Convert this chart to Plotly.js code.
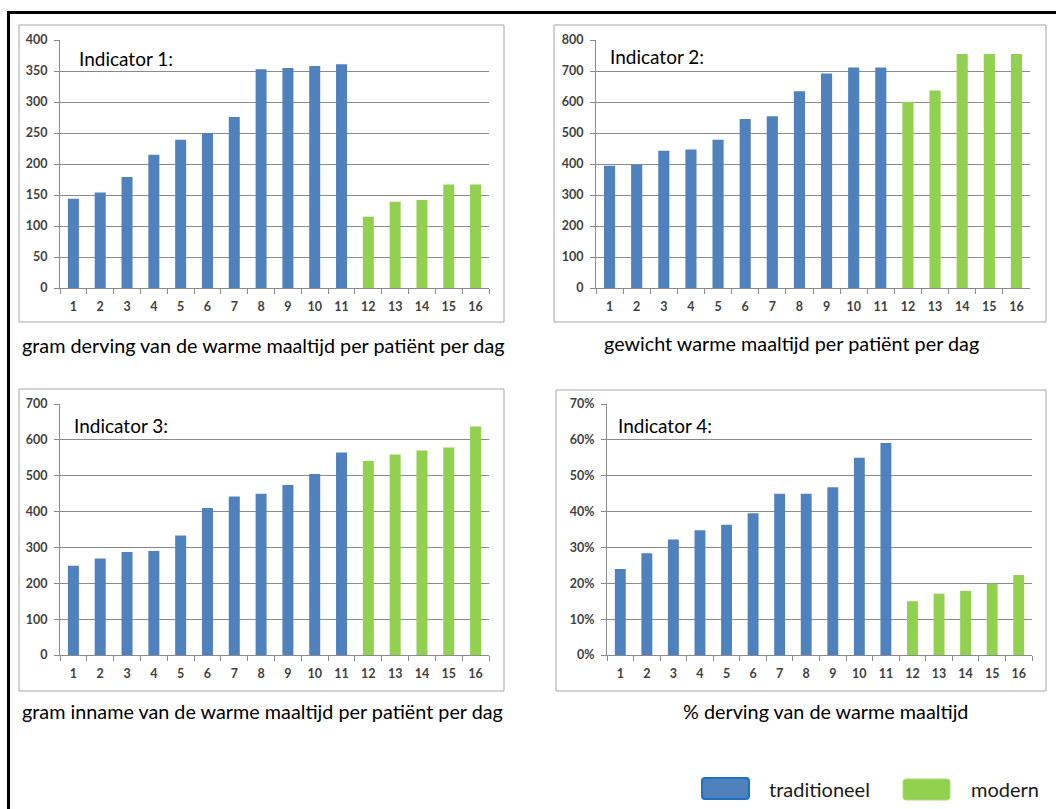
<!DOCTYPE html>
<html>
<head>
<meta charset="utf-8">
<script src="https://cdn.plot.ly/plotly-3.0.1.min.js"></script>
<style>html,body{margin:0;padding:0;background:#fff;overflow:hidden}#chart{width:1056px;height:809px}</style>
</head>
<body>
<div id="chart"></div>
<script>
// ---- data ----
const categories = ['1','2','3','4','5','6','7','8','9','10','11','12','13','14','15','16'];
const groups = ['traditioneel','traditioneel','traditioneel','traditioneel','traditioneel','traditioneel','traditioneel','traditioneel','traditioneel','traditioneel','traditioneel','modern','modern','modern','modern','modern'];
const ind1 = [144,154,179,215,239,250,276,353,355,358,361,115,139,142,167,167];
const ind2 = [394,398,443,447,478,545,554,635,692,711,711,600,637,755,755,755];
const ind3 = [249,269,287,290,333,410,442,450,474,505,565,541,559,570,579,637];
const ind4 = [0.240,0.284,0.322,0.348,0.363,0.395,0.450,0.450,0.468,0.550,0.591,0.150,0.171,0.179,0.199,0.223];
const panelTitles = ['Indicator 1:','Indicator 2:','Indicator 3:','Indicator 4:'];
const captions = ['gram derving van de warme maaltijd per patiënt per dag','gewicht warme maaltijd per patiënt per dag','gram inname van de warme maaltijd per patiënt per dag','% derving van de warme maaltijd'];
const legendLabels = ['traditioneel','modern'];
const groupColors = {traditioneel:'#4F81BD', modern:'#92D050'};

// ---- helpers (pixel -> paper) ----
const W = 1056, H = 809;
const px = x => x / W;
const py = y => 1 - y / H;
const FONT = 'Lato, "Open Sans", sans-serif';
const GRID = '#8a8a8a';

const series = [ind1, ind2, ind3, ind4];
const traces = series.map((vals, i) => ({
  type: 'bar',
  x: categories,
  y: vals,
  xaxis: 'x' + (i === 0 ? '' : i + 1),
  yaxis: 'y' + (i === 0 ? '' : i + 1),
  marker: {color: groups.map(g => groupColors[g]), line: {width: 0}},
  hoverinfo: 'x+y'
}));

// panel geometry in pixels: [xLeft, xRight, yTop, yBottom]
const plots = [[60,489,40,288],[596,1030,40,288],[60,489,404,655],[607,1032,404,655]];
const yRanges = [[0,400,50],[0,800,100],[0,700,100],[0,0.7,0.1]];

const layout = {
  width: W, height: H,
  margin: {l:0, r:0, t:0, b:0},
  paper_bgcolor: '#fff', plot_bgcolor: '#fff',
  showlegend: false,
  bargap: 0.59,
  font: {family: FONT},
  shapes: [], annotations: []
};

const tickFont = {family: FONT, size: 12.5, color: '#3f3f3f', weight: 'bold'};
plots.forEach((p, i) => {
  const sfx = i === 0 ? '' : String(i + 1);
  layout['xaxis' + sfx] = {
    domain: [px(p[0]), px(p[1])], anchor: 'y' + sfx, type: 'category',
    showgrid: false, showline: true, linecolor: GRID, linewidth: 1,
    ticks: 'outside', tickson: 'boundaries', ticklen: 5, tickcolor: GRID,
    ticklabelstandoff: 7,
    tickfont: tickFont,
    fixedrange: true
  };
  layout['yaxis' + sfx] = {
    domain: [py(p[3]), py(p[2])], anchor: 'x' + sfx,
    range: [yRanges[i][0], yRanges[i][1]], dtick: yRanges[i][2], tick0: 0,
    tickformat: i === 3 ? '.0%' : '',
    showgrid: true, gridcolor: GRID, gridwidth: 1, zeroline: false,
    showline: true, linecolor: GRID, linewidth: 1,
    ticks: 'outside', ticklen: 5, tickcolor: GRID, ticklabelstandoff: 4,
    tickfont: tickFont,
    fixedrange: true
  };
});

// panel boxes
const boxes = [[19,504,25,322],[554,1046,25,322],[19,504,389,691],[556,1046,390,691]];
boxes.forEach(b => layout.shapes.push({type:'rect', xref:'paper', yref:'paper',
  x0: px(b[0]), x1: px(b[1]), y0: py(b[3]), y1: py(b[2]),
  line: {color:'#a6a6a6', width:1}, fillcolor:'rgba(0,0,0,0)', layer:'below'}));

// outer black frame (clipped at right and bottom)
layout.shapes.push({type:'rect', xref:'paper', yref:'paper',
  x0: px(8.5), x1: px(1070), y0: py(830), y1: py(12.5),
  line: {color:'#000', width:3}, fillcolor:'rgba(0,0,0,0)'});

// indicator labels
const titlePos = [[77,58],[608,56],[72,425],[616,425]];
titlePos.forEach((t, i) => layout.annotations.push({
  xref:'paper', yref:'paper', x: px(t[0]), y: py(t[1]), xanchor:'left', yanchor:'middle',
  text: panelTitles[i], showarrow:false, font:{family:FONT, size:19, color:'#000'}}));

// captions
const capPos = [[20,345,'left'],[791,343,'center'],[20,711,'left'],[825,711,'center']];
capPos.forEach((c, i) => layout.annotations.push({
  xref:'paper', yref:'paper', x: px(c[0]), y: py(c[1]), xanchor: c[2], yanchor:'middle',
  text: captions[i], showarrow:false, font:{family:FONT, size:19.8, color:'#000'}}));

// custom legend
function roundRect(x0, y0, x1, y1, r) {
  return `M${px(x0+r)},${py(y0)} L${px(x1-r)},${py(y0)} Q${px(x1)},${py(y0)} ${px(x1)},${py(y0+r)} ` +
         `L${px(x1)},${py(y1-r)} Q${px(x1)},${py(y1)} ${px(x1-r)},${py(y1)} L${px(x0+r)},${py(y1)} ` +
         `Q${px(x0)},${py(y1)} ${px(x0)},${py(y1-r)} L${px(x0)},${py(y0+r)} Q${px(x0)},${py(y0)} ${px(x0+r)},${py(y0)} Z`;
}
const legendBoxes = [[702,778,749,799,'#1F6FC5'],[903,779,950,800,'#A9DC7A']];
legendBoxes.forEach((b, i) => {
  layout.shapes.push({type:'path', xref:'paper', yref:'paper', path: roundRect(b[0], b[1], b[2], b[3], 3),
    fillcolor: groupColors[legendLabels[i]], line:{color:b[4], width: i === 0 ? 2 : 1}});
});
const legendText = [[767,789],[969,789]];
legendText.forEach((t, i) => layout.annotations.push({
  xref:'paper', yref:'paper', x: px(t[0]), y: py(t[1]), xanchor:'left', yanchor:'middle',
  text: legendLabels[i], showarrow:false, font:{family:FONT, size:20, color:'#1a1a1a'}}));

Plotly.newPlot('chart', traces, layout, {displayModeBar:false, staticPlot:true});
</script>
</body>
</html>
